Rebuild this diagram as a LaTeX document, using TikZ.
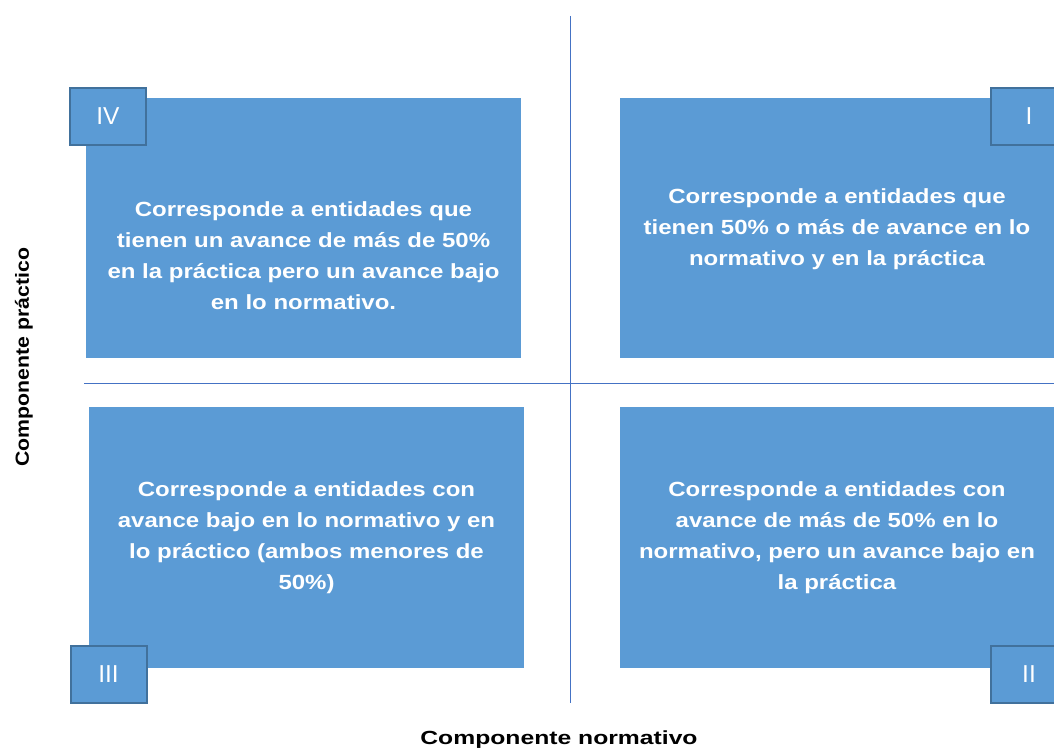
\documentclass[tikz,border=0pt]{standalone}
\usepackage{fontspec}
\setmainfont{Liberation Sans}
\definecolor{boxblue}{HTML}{5B9BD5}
\definecolor{tagedge}{HTML}{41719C}
\definecolor{axisblue}{HTML}{4472C4}
\newcommand{\widen}[2]{\scalebox{#1}[1]{#2}}
\begin{document}
\begin{tikzpicture}[x=1pt,y=-1pt,
  quad/.style={fill=boxblue,draw=none,inner sep=0pt},
  quadtext/.style={text=white,align=center,font=\fontsize{20.5}{31}\selectfont\bfseries,xscale=1.17,transform shape},
  tag/.style={fill=boxblue,draw=tagedge,line width=2pt,minimum width=76pt,minimum height=57pt,text=white,font=\fontsize{24.5}{28}\selectfont,inner sep=0pt},
  axislabel/.style={font=\fontsize{19}{22}\selectfont\bfseries}]
\useasboundingbox (0,0) rectangle (1054,749);

%axes
\coordinate (top) at (570,16);
\coordinate (bottom) at (570,703);
\coordinate (left) at (84,383);
\coordinate (right) at (1054,383);
\draw[axisblue,line width=1pt] (top) -- (bottom);
\draw[axisblue,line width=1pt] (left) -- (right);

%quadrants
\node(Q4)[quad,minimum width=435pt,minimum height=260pt] at (303.5,228) {};
\node(Q1)[quad,minimum width=434pt,minimum height=260pt] at (837,228) {};
\node(Q3)[quad,minimum width=435pt,minimum height=261pt] at (306.5,537.5) {};
\node(Q2)[quad,minimum width=434pt,minimum height=261pt] at (837,537.5) {};

\node(T4)[quadtext] at (303.5,256) {Corresponde a entidades que\\tienen un avance de más de 50\%\\en la práctica pero un avance bajo\\en lo normativo.};
\node(T1)[quadtext] at (837,229) {Corresponde a entidades que\\tienen 50\% o más de avance en lo\\normativo y en la práctica};
\node(T3)[quadtext] at (306.5,538) {Corresponde a entidades con\\avance bajo en lo normativo y en\\lo práctico (ambos menores de\\50\%)};
\node(T2)[quadtext] at (837,538) {Corresponde a entidades con\\avance de más de 50\% en lo\\normativo, pero un avance bajo en\\la práctica};

%tags
\node(L4)[tag] at (108,116.5) {IV};
\node(L1)[tag] at (1029,116.5) {I};
\node(L3)[tag] at (108.5,674.5) {III};
\node(L2)[tag] at (1029,674.5) {II};

\node(ylab)[axislabel,rotate=90] at (24,357) {\widen{1.12}{Componente práctico}};
\node(xlab)[axislabel] at (559,740) {\widen{1.3}{Componente normativo}};

\end{tikzpicture}
\end{document}
